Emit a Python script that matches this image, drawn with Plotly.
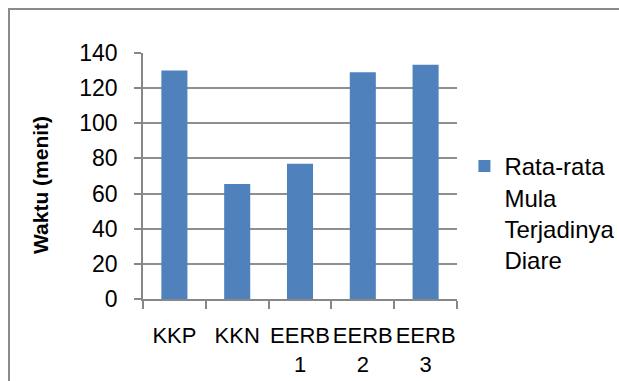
import plotly.graph_objects as go

categories = ["KKP", "KKN", "EERB<br>1", "EERB<br>2", "EERB<br>3"]
values = [130, 65.5, 77, 129, 133.3]
series_name = "Rata-rata<br>Mula<br>Terjadinya<br>Diare"
y_title = "Waktu (menit)"
y_ticks = [0, 20, 40, 60, 80, 100, 120, 140]

W, H = 619, 381
L, R, T, B = 143, 162, 53, 82
pw, ph = W - L - R, H - T - B

fig = go.Figure()
fig.add_trace(go.Bar(x=categories, y=values, name=series_name,
                     marker=dict(color="#4f81bd", line=dict(width=0)),
                     showlegend=True))

font_family = "Liberation Sans, Arial, sans-serif"
fig.update_layout(
    width=W, height=H,
    margin=dict(l=L, r=R, t=T, b=B, autoexpand=False),
    paper_bgcolor="white", plot_bgcolor="white",
    bargap=0.585,
    font=dict(family=font_family, color="black", size=23),
    showlegend=True,
    legend=dict(x=(466 - L) / pw - 0.005, xanchor="left", y=(299 - 144) / ph, yanchor="top",
                valign="top", font=dict(size=24, family=font_family, color="black"),
                bgcolor="rgba(0,0,0,0)", tracegroupgap=0),
    xaxis=dict(type="category", showline=True, linecolor="#878787", linewidth=1.5,
               ticks="outside", tickson="boundaries", ticklen=8, tickcolor="#878787",
               tickwidth=1.5, showgrid=False, tickfont=dict(size=22), tickangle=0,
               ticklabelstandoff=16, automargin=False),
    yaxis=dict(range=[0, 140], tickvals=y_ticks, showline=True, linecolor="#878787",
               linewidth=1.5, ticks="outside", ticklen=7, tickcolor="#878787", tickwidth=1.5,
               showgrid=True, gridcolor="#8f8f8f", gridwidth=2,
               tickfont=dict(size=23), ticklabelstandoff=12, automargin=False,
               zeroline=False),
    annotations=[dict(text="<b>" + y_title + "</b>", textangle=-90, xref="paper", yref="paper",
                      x=(40 - L) / pw, y=(H - B - 185) / ph, xanchor="center", yanchor="middle",
                      showarrow=False, font=dict(size=21, family=font_family, color="black"))],
)

# chart area border (top & left visible, rest clipped)
x0 = (9 - L) / pw
y1 = (H - B - 9) / ph
fig.add_shape(type="rect", xref="paper", yref="paper", x0=x0, y0=-2, x1=3, y1=y1,
              line=dict(color="#8a8a8a", width=2), fillcolor="rgba(0,0,0,0)", layer="below")

fig.write_html("out.html")
